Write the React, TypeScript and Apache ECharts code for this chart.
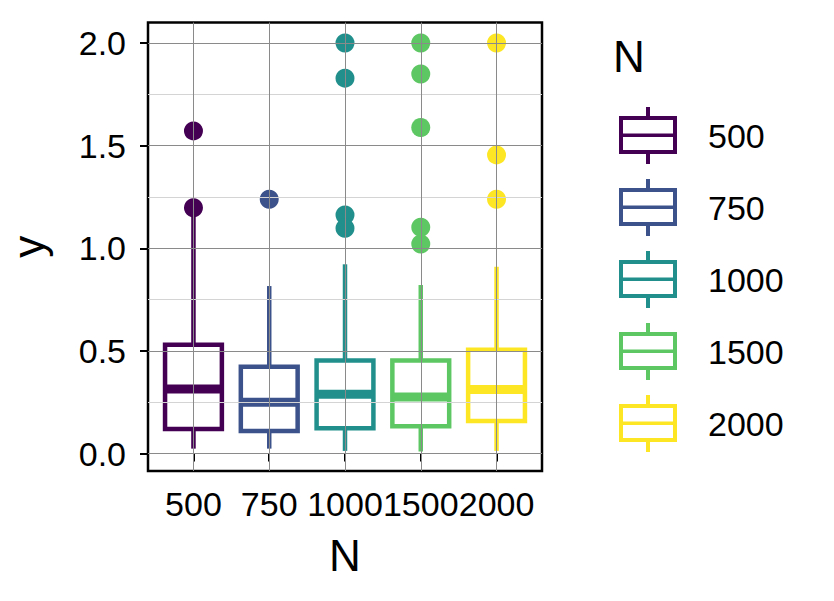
import React, { useEffect, useRef } from "react";
import * as echarts from "echarts";

const categories = ["500", "750", "1000", "1500", "2000"];
const colors = ["#440154", "#3B528B", "#21908C", "#5DC863", "#FDE725"];
const lowerWhisker = [0.024, 0.024, 0.013, 0.01, 0.013];
const q1 = [0.12, 0.11, 0.123, 0.133, 0.158];
const median = [0.315, 0.25, 0.289, 0.276, 0.312];
const q3 = [0.53, 0.423, 0.453, 0.453, 0.506];
const upperWhisker = [1.18, 0.816, 0.922, 0.821, 0.91];
const outliers = [
  [1.572, 1.197],
  [1.239],
  [2.0, 1.829, 1.162, 1.098],
  [2.0, 1.849, 1.588, 1.102, 1.021],
  [2.0, 1.455, 1.239],
];
const yTicks = [0, 0.5, 1, 1.5, 2];
const yMinor = [0.25, 0.75, 1.25, 1.75];

const FONT = "'Liberation Sans', Arial, sans-serif";

const legendIcon =
  "path://M27 0h4v10h-4Z M0 9h58v4h-58Z M0 43h58v4h-58Z M0 13h4v30h-4Z M54 13h4v30h-4Z M4 26.5h50v3.5h-50Z M27 47h4v10h-4Z";

export default function App() {
  const ref = useRef<HTMLDivElement>(null);
  useEffect(() => {
    document.body.style.margin = "0";
    const chart = echarts.init(ref.current!, null, { renderer: "svg" });
    const xPositions = categories.map((_, i) => i + 1);
    const major = { color: "#8a8a8a", width: 1, type: "solid" };
    const minor = { color: "#d4d4d4", width: 1, type: "solid" };

    const boxSeries = categories.map((name, i) => ({
      type: "custom",
      name,
      z: 3,
      data: [[i + 1, lowerWhisker[i], q1[i], median[i], q3[i], upperWhisker[i]]],
      encode: { x: 0, y: [1, 2, 3, 4, 5] },
      itemStyle: { color: colors[i] },
      renderItem: (params: any, api: any) => {
        const x = api.value(0);
        const lo = api.coord([x, api.value(1)]);
        const b1 = api.coord([x, api.value(2)]);
        const md = api.coord([x, api.value(3)]);
        const b3 = api.coord([x, api.value(4)]);
        const hi = api.coord([x, api.value(5)]);
        const w = api.size([0.75, 0])[0];
        const cx = lo[0];
        const c = colors[i];
        return {
          type: "group",
          children: [
            { type: "line", shape: { x1: cx, y1: lo[1], x2: cx, y2: b1[1] }, style: { stroke: c, lineWidth: 4.5 } },
            { type: "line", shape: { x1: cx, y1: b3[1], x2: cx, y2: hi[1] }, style: { stroke: c, lineWidth: 4.5 } },
            {
              type: "rect",
              shape: { x: cx - w / 2, y: b3[1], width: w, height: b1[1] - b3[1] },
              style: { fill: "#ffffff", stroke: c, lineWidth: 4.5 },
            },
            {
              type: "line",
              shape: { x1: cx - w / 2, y1: md[1], x2: cx + w / 2, y2: md[1] },
              style: { stroke: c, lineWidth: 9 },
            },
          ],
        };
      },
    }));

    const outlierSeries = categories.map((name, i) => ({
      type: "scatter",
      name,
      z: 4,
      symbol: "circle",
      symbolSize: 19,
      data: outliers[i].map((v) => [i + 1, v]),
      itemStyle: { color: colors[i], opacity: 1 },
    }));

    const gridSeries = {
      type: "line",
      name: "__grid",
      z: 1,
      data: [],
      markLine: {
        silent: true,
        symbol: ["none", "none"],
        label: { show: false },
        animation: false,
        data: [
          ...yMinor.map((v) => ({ yAxis: v, lineStyle: minor })),
          ...yTicks.map((v) => ({ yAxis: v, lineStyle: major })),
          ...xPositions.map((v) => ({ xAxis: v, lineStyle: major })),
        ],
      },
    };

    chart.setOption({
      animation: false,
      title: {
        text: "N",
        left: 608,
        top: 29,
        textStyle: { fontSize: 44, fontWeight: "normal", color: "#000", fontFamily: FONT },
      },
      legend: {
        orient: "vertical",
        left: 614,
        top: 102,
        itemWidth: 58,
        itemHeight: 57,
        itemGap: 15,
        selectedMode: false,
        textStyle: { fontSize: 34, color: "#000", fontFamily: FONT, padding: [0, 0, 0, 26] },
        data: categories.map((c, i) => ({
          name: c,
          icon: legendIcon,
          itemStyle: { color: colors[i], borderWidth: 0 },
        })),
      },
      grid: {
        left: 148,
        top: 22.5,
        right: 292,
        bottom: 130,
        show: true,
        borderColor: "#000",
        borderWidth: 2.5,
        backgroundColor: "transparent",
      },
      xAxis: {
        type: "value",
        min: 0.4,
        max: 5.6,
        splitLine: { show: false },
        axisLine: { show: false },
        axisTick: { show: true, customValues: xPositions, length: 8, lineStyle: { color: "#000", width: 2 } },
        axisLabel: {
          customValues: xPositions,
          formatter: (v: number) => categories[Math.round(v) - 1] ?? "",
          fontSize: 34,
          color: "#000",
          margin: 16,
          fontFamily: FONT,
        },
        name: "N",
        nameLocation: "middle",
        nameGap: 62,
        nameTextStyle: { fontSize: 44, color: "#000", fontFamily: FONT },
      },
      yAxis: {
        type: "value",
        min: -0.085,
        max: 2.1,
        splitLine: { show: false },
        axisLine: { show: false },
        axisTick: { show: true, customValues: yTicks, length: 8, lineStyle: { color: "#000", width: 2 } },
        axisLabel: {
          customValues: yTicks,
          formatter: (v: number) => v.toFixed(1),
          fontSize: 34,
          color: "#000",
          margin: 22,
          fontFamily: FONT,
        },
        name: "y",
        nameLocation: "middle",
        nameGap: 98,
        nameTextStyle: { fontSize: 44, color: "#000", fontFamily: FONT },
      },
      series: [gridSeries, ...boxSeries, ...outlierSeries],
    });
    return () => chart.dispose();
  }, []);
  return <div ref={ref} style={{ width: 834, height: 601 }} />;
}
